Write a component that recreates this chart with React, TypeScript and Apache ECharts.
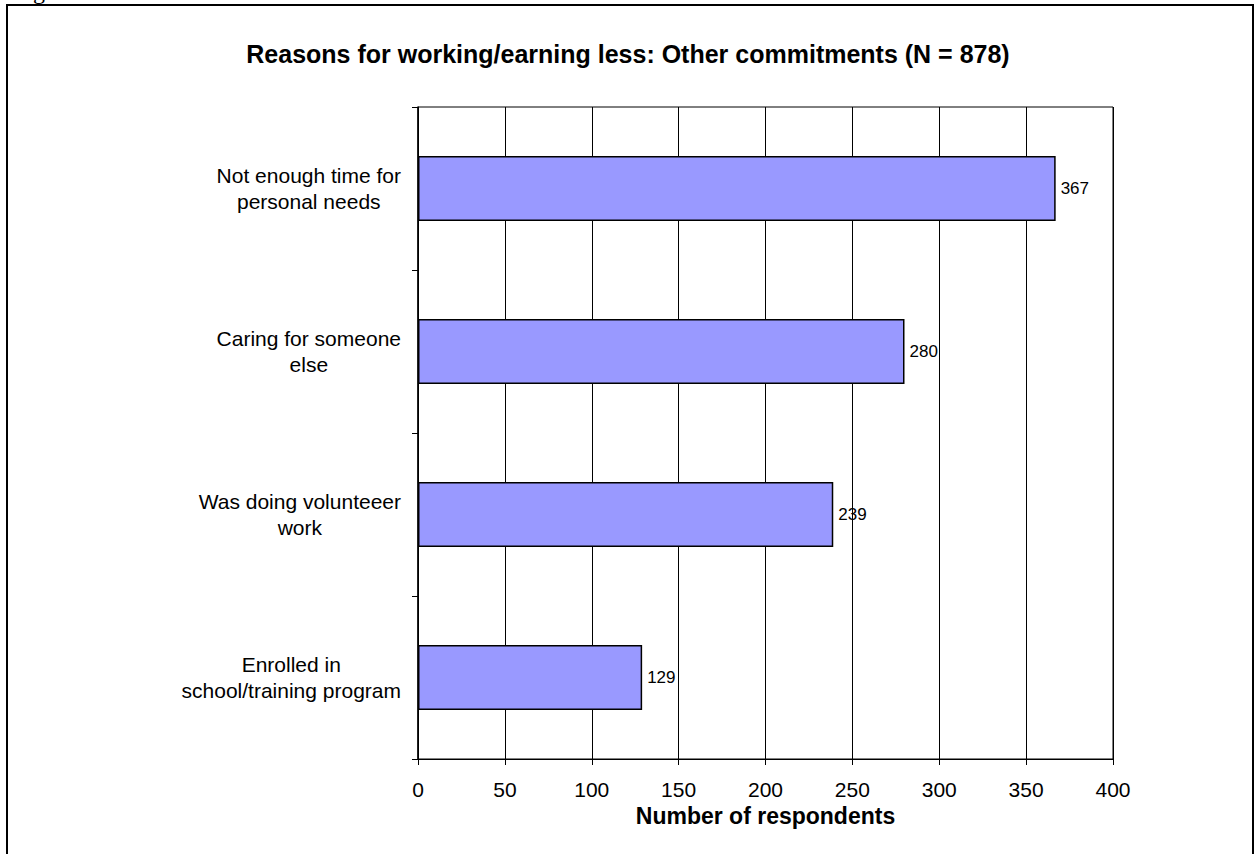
import React, { useEffect, useRef } from "react";
import * as echarts from "echarts";

const categories = [
  "Not enough time for\npersonal needs",
  "Caring for someone\nelse",
  "Was doing volunteeer\nwork",
  "Enrolled in\nschool/training program",
];
const values = [367, 280, 239, 129];
const xTicks = { min: 0, max: 400, interval: 50 };
const titleText = "Reasons for working/earning less: Other commitments (N = 878)";
const xAxisName = "Number of respondents";

const FONT = 'Arial, "Liberation Sans", sans-serif';

export default function App() {
  const ref = useRef<HTMLDivElement>(null);
  useEffect(() => {
    if (!ref.current) return;
    const chart = echarts.init(ref.current, undefined, { renderer: "svg" });
    chart.setOption({
      animation: false,
      backgroundColor: "#fff",
      title: {
        text: titleText,
        left: "center",
        top: 36,
        textStyle: { fontFamily: FONT, fontSize: 25, fontWeight: "bold", color: "#000" },
      },
      graphic: [
        {
          type: "rect",
          shape: { x: 7, y: 5, width: 1246, height: 900 },
          style: { fill: "none", stroke: "#000", lineWidth: 2 },
          silent: true,
        },
        {
          type: "text",
          x: 33,
          y: -9,
          style: {
            text: "g",
            fontSize: 24,
            fontFamily: '"Liberation Serif", "Times New Roman", serif',
            fill: "#000",
            verticalAlign: "middle",
          },
          silent: true,
        },
      ],
      grid: {
        left: 418,
        right: 143,
        top: 107,
        bottom: 95,
        show: true,
        borderColor: "#000",
        borderWidth: 1,
        backgroundColor: "transparent",
      },
      xAxis: {
        type: "value",
        min: xTicks.min,
        max: xTicks.max,
        interval: xTicks.interval,
        name: xAxisName,
        nameLocation: "middle",
        nameGap: 44,
        nameTextStyle: { fontFamily: FONT, fontSize: 23, fontWeight: "bold", color: "#000" },
        axisLine: { show: true, lineStyle: { color: "#000", width: 1 } },
        axisTick: { show: true, length: 6, lineStyle: { color: "#000", width: 1 } },
        axisLabel: { fontFamily: FONT, fontSize: 21, color: "#000", margin: 20 },
        splitLine: { show: true, lineStyle: { color: "#000", width: 1 } },
      },
      yAxis: {
        type: "category",
        data: categories,
        inverse: true,
        boundaryGap: true,
        axisLine: { show: true, lineStyle: { color: "#000", width: 1.5 } },
        axisTick: { show: true, length: 6, lineStyle: { color: "#000", width: 1 } },
        splitLine: { show: false },
        axisLabel: {
          margin: 17,
          formatter: (v: string) =>
            v
              .split("\n")
              .map((l) => `{a|${l}}`)
              .join("\n"),
          rich: {
            a: {
              align: "center",
              fontFamily: FONT,
              fontSize: 21,
              lineHeight: 26,
              color: "#000",
            },
          },
        },
      },
      series: [
        {
          type: "bar",
          data: values,
          barWidth: 65,
          itemStyle: { color: "#9999FF", borderColor: "#000", borderWidth: 1.5 },
          label: {
            show: true,
            position: "right",
            distance: 5,
            fontFamily: FONT,
            fontSize: 17,
            color: "#000",
          },
        },
      ],
    });
    return () => chart.dispose();
  }, []);
  return (
    <div
      ref={ref}
      style={{ position: "fixed", left: 0, top: 0, width: 1256, height: 854 }}
    />
  );
}
